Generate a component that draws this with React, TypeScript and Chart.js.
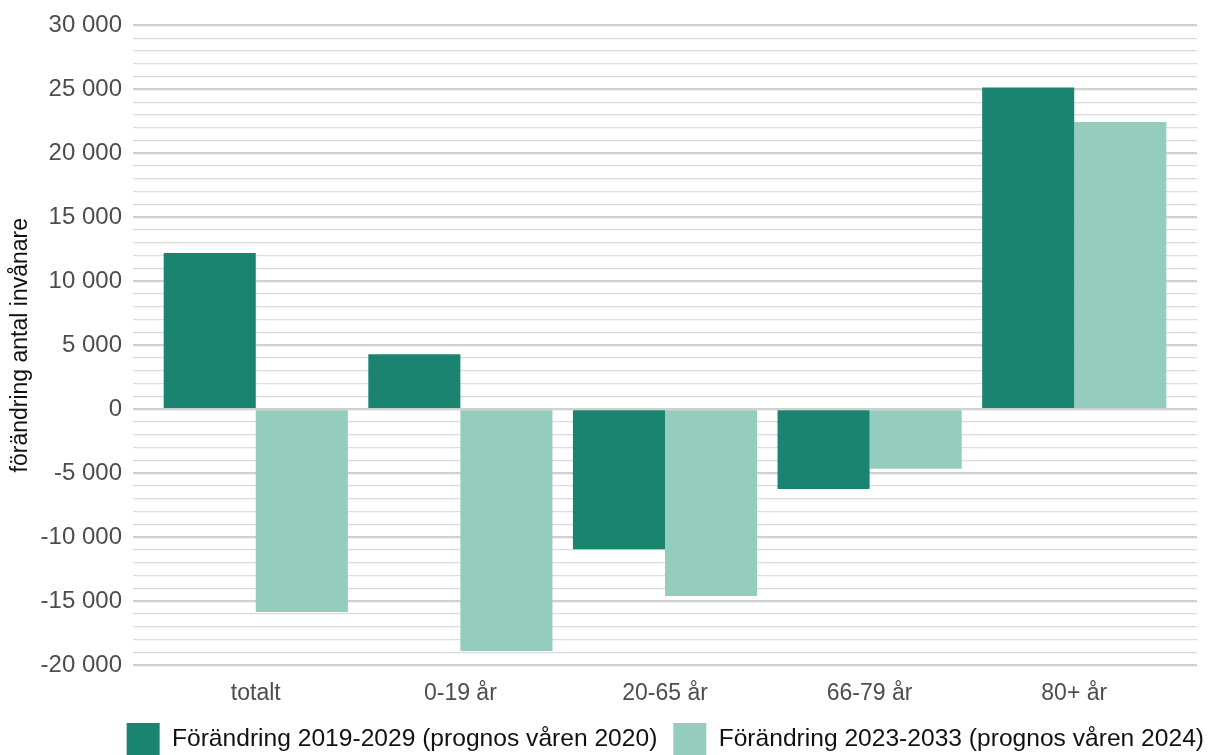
import React, { useEffect, useRef } from "react";
import { Chart, registerables } from "chart.js";

Chart.register(...registerables);

const categories = ["totalt", "0-19 år", "20-65 år", "66-79 år", "80+ år"];
const series2020 = [12200, 4300, -10950, -6250, 25150];
const series2024 = [-15850, -18900, -14600, -4650, 22450];
const seriesLabels = [
  "Förändring 2019-2029 (prognos våren 2020)",
  "Förändring 2023-2033 (prognos våren 2024)",
];
const seriesColors = ["#1b8470", "#94cdbe"];
const yTitle = "förändring antal invånare";
const yMin = -20000;
const yMax = 30000;
const yMinorStep = 1000;
const yMajorStep = 5000;

const FONT = "'Liberation Sans', Arial, sans-serif";

function fmt(v: number): string {
  const s = String(Math.abs(v)).replace(/\B(?=(\d{3})+(?!\d))/g, " ");
  return v < 0 ? "-" + s : s;
}

export default function App() {
  const ref = useRef<HTMLCanvasElement | null>(null);

  useEffect(() => {
    if (!ref.current) return;
    const chart = new Chart(ref.current, {
      type: "bar",
      data: {
        datasets: [
          {
            label: seriesLabels[0],
            data: series2020.map((v, i) => ({ x: i + 1, y: v })),
            backgroundColor: seriesColors[0],
            borderWidth: 0,
            categoryPercentage: 0.9,
            barPercentage: 1,
          },
          {
            label: seriesLabels[1],
            data: series2024.map((v, i) => ({ x: i + 1, y: v })),
            backgroundColor: seriesColors[1],
            borderWidth: 0,
            categoryPercentage: 0.9,
            barPercentage: 1,
          },
        ],
      },
      options: {
        animation: false,
        responsive: false,
        devicePixelRatio: 1,
        layout: { padding: { top: 25, left: 0, right: 0, bottom: 0 } },
        plugins: {
          tooltip: { enabled: false },
          legend: {
            position: "bottom",
            align: "end",
            labels: {
              boxWidth: 33,
              boxHeight: 33,
              padding: 16,
              color: "#111111",
              font: { family: FONT, size: 24.6 },
            },
          },
        },
        scales: {
          x: {
            type: "linear",
            min: 0.4,
            max: 5.6,
            offset: false,
            grid: { display: false },
            border: { display: false },
            afterBuildTicks: (axis: any) => {
              axis.ticks = categories.map((_, i) => ({ value: i + 1 }));
            },
            afterFit: (scale: any) => {
              scale.height = 42;
            },
            ticks: {
              autoSkip: false,
              maxRotation: 0,
              padding: 7,
              color: "#4d4d4d",
              font: { family: FONT, size: 23 },
              callback: (v: any) => categories[Math.round(Number(v)) - 1] ?? "",
            },
          },
          y: {
            type: "linear",
            position: "left",
            min: yMin,
            max: yMax,
            grid: {
              drawTicks: false,
              color: (ctx: any) =>
                ctx.tick && ctx.tick.value % yMajorStep === 0 ? "#d0d0d0" : "#dcdcdc",
              lineWidth: (ctx: any) =>
                ctx.tick && ctx.tick.value % yMajorStep === 0 ? 2.2 : 1.3,
            },
            border: { display: false },
            afterFit: (scale: any) => {
              scale.width = 133;
            },
            title: {
              display: true,
              text: yTitle,
              color: "#111111",
              font: { family: FONT, size: 23 },
              padding: { top: 7, bottom: 0 },
            },
            ticks: {
              stepSize: yMinorStep,
              autoSkip: false,
              padding: 11,
              color: "#4d4d4d",
              font: { family: FONT, size: 24 },
              callback: (v: any) => (Number(v) % yMajorStep === 0 ? fmt(Number(v)) : ""),
            },
          },
          yR: {
            type: "linear",
            position: "right",
            display: true,
            grid: { display: false },
            border: { display: false },
            ticks: { display: false },
            afterFit: (scale: any) => {
              scale.width = 23;
            },
          },
        },
      },
    } as any);
    return () => chart.destroy();
  }, []);

  return (
    <div
      style={{
        position: "fixed",
        left: 0,
        top: 0,
        width: 1209,
        height: 755,
        overflow: "hidden",
        background: "#ffffff",
      }}
    >
      <canvas ref={ref} width={1220} height={766} style={{ display: "block" }} />
    </div>
  );
}
